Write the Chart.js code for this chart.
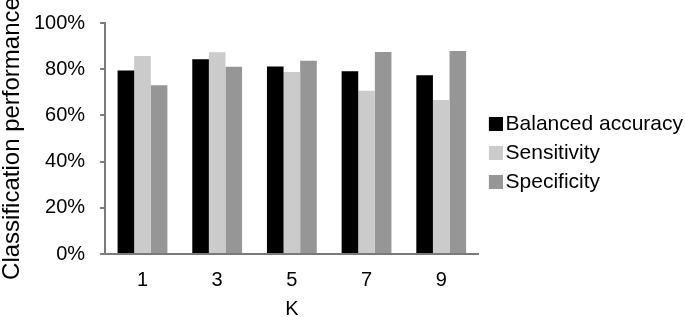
<!DOCTYPE html>
<html>
<head>
<meta charset="UTF-8">
<script src="https://cdn.jsdelivr.net/npm/chart.js"></script>
<style>
  html, body { margin: 0; padding: 0; background: #fff; overflow: hidden; }
  /* a bit wider than the window: the legend's empty right margin falls off-screen */
  #wrap { width: 693px; height: 317px; }
</style>
</head>
<body>
<div id="wrap"><canvas id="c"></canvas></div>
<script>
// data
const kValues = ["1", "3", "5", "7", "9"];
const balancedAccuracy = [79.4, 84.3, 81.2, 79.1, 77.4];
const sensitivity = [85.7, 87.3, 78.8, 70.7, 66.7];
const specificity = [73.0, 81.1, 83.7, 87.4, 87.9];
const yTicks = [0, 20, 40, 60, 80, 100];

const colors = ["#000000", "#cbcbcb", "#969696"];
const axisColor = "#7a7a7a";

Chart.defaults.font.family = "'Liberation Sans', Arial, sans-serif";
Chart.defaults.color = "#000";

// legend swatch: square on the right side of a transparent strip
function swatch(color) {
  const c = document.createElement("canvas");
  c.width = 24; c.height = 14;
  const g = c.getContext("2d");
  g.fillStyle = color;
  g.fillRect(10, 0, 14, 14);
  return c;
}

new Chart(document.getElementById("c"), {
  type: "bar",
  data: {
    labels: kValues,
    datasets: [
      { label: "Balanced accuracy", data: balancedAccuracy, backgroundColor: colors[0] },
      { label: "Sensitivity", data: sensitivity, backgroundColor: colors[1] },
      { label: "Specificity", data: specificity, backgroundColor: colors[2] }
    ]
  },
  options: {
    responsive: true,
    maintainAspectRatio: false,
    animation: false,
    layout: { padding: { top: 7, right: 0, bottom: 0, left: 0 } },
    datasets: { bar: { categoryPercentage: 0.667, barPercentage: 1 } },
    plugins: {
      tooltip: { enabled: false },
      legend: {
        position: "right",
        align: "start",
        maxWidth: 300,
        title: { display: true, text: "", font: { size: 10, lineHeight: 1 }, padding: { top: 88.5, bottom: 0 } },
        labels: {
          font: { size: 21 },
          usePointStyle: true,
          boxWidth: 8.5,
          padding: 8,
          generateLabels: chart =>
            Chart.defaults.plugins.legend.labels.generateLabels(chart)
              .map((item, i) => Object.assign(item, { pointStyle: swatch(colors[i]) }))
        }
      }
    },
    scales: {
      x: {
        grid: { display: false, drawTicks: false },
        border: { color: axisColor, width: 2 },
        ticks: { font: { size: 20 }, padding: 14 },
        title: { display: true, text: "K", font: { size: 20, lineHeight: 1 }, padding: { top: -7, bottom: -2 } }
      },
      y: {
        min: 0,
        max: 100,
        afterBuildTicks: axis => { axis.ticks = yTicks.map(v => ({ value: v })); },
        ticks: {
          font: { size: 20, lineHeight: 0.8 },
          padding: 15,
          callback: v => v + "%"
        },
        grid: { display: true, drawOnChartArea: false, drawTicks: true, tickLength: 5, color: axisColor, lineWidth: 2 },
        border: { color: axisColor, width: 2 },
        title: { display: true, text: "Classification performance", font: { size: 24, lineHeight: 1 }, padding: { top: 0, bottom: -5 } }
      }
    }
  }
});
</script>
</body>
</html>
